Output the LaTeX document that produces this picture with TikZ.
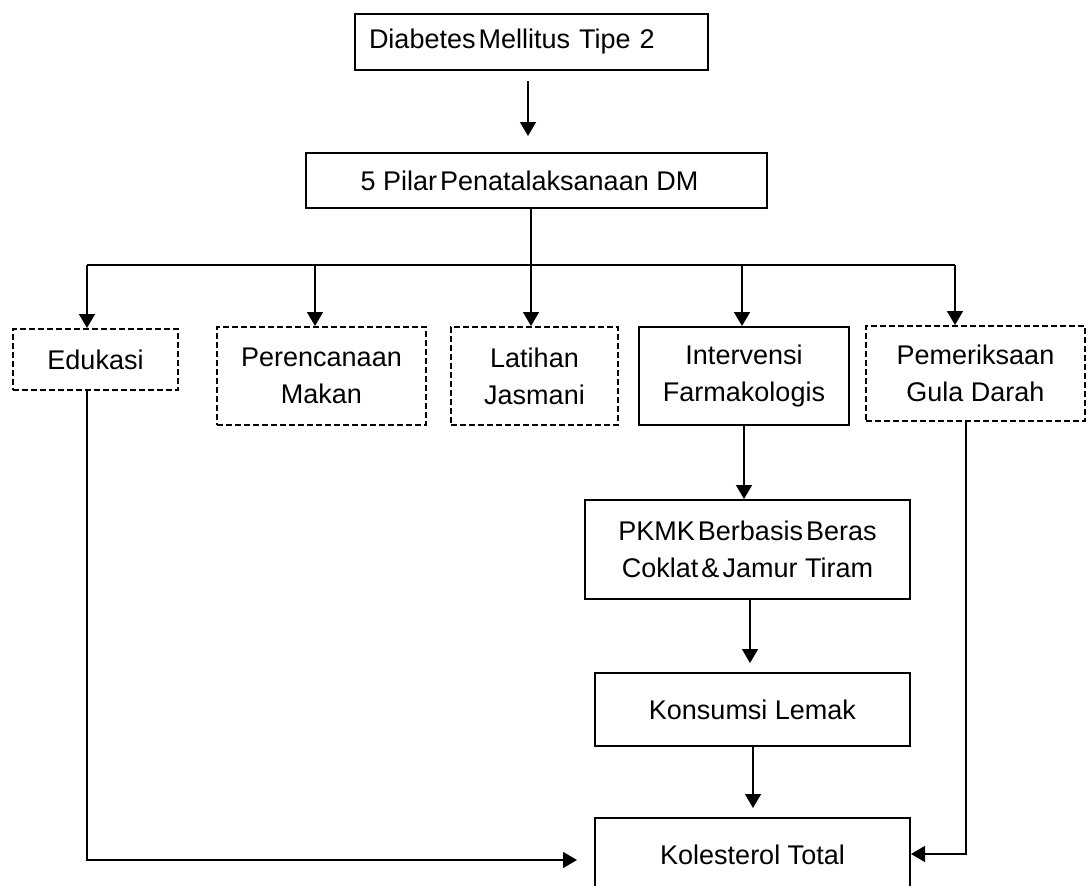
\documentclass[tikz,border=0pt]{standalone}
\usepackage{fontspec}
\setmainfont{Liberation Sans}
\usetikzlibrary{arrows.meta}
\begin{document}
\begin{tikzpicture}[x=1pt,y=-1pt,
  box/.style={draw, line width=2pt, inner sep=0pt, align=center, font=\fontsize{27}{37}\selectfont},
  dbox/.style={box, dash pattern=on 6pt off 3pt},
  arr/.style={line width=1.5pt, -{Triangle[length=14pt,width=16pt]}},
  ln/.style={line width=1.5pt}]
\useasboundingbox (0,0) rectangle (1087,886);
\node[box, minimum width=353pt, minimum height=56pt, text width=325pt, align=left, inner xsep=14pt] (dm) at (531.5,42) {Diabetes\hspace{3pt}Mellitus Tipe 2};
\node[box, minimum width=461pt, minimum height=55pt] (pilar) at (536.5,180.5) {5 Pilar\hspace{3pt}Penatalaksanaan DM\hspace*{14pt}};
\node[dbox, minimum width=165pt, minimum height=61pt] (edukasi) at (95.5,359.5) {Edukasi};
\node[dbox, minimum width=209pt, minimum height=98pt] (peren) at (321.5,376) {Perencanaan\\Makan};
\node[dbox, minimum width=167pt, minimum height=98pt] (latihan) at (534.5,376) {Latihan\\Jasmani};
\node[box, minimum width=210pt, minimum height=98pt] (interv) at (744,376) {Intervensi\\Farmakologis};
\node[dbox, minimum width=219pt, minimum height=95pt] (pemer) at (975.5,373.5) {Pemeriksaan\\Gula Darah};
\node[box, minimum width=325pt, minimum height=99pt] (pkmk) at (747.5,549.5) {PKMK\hspace{3pt}Berbasis\hspace{3pt}Beras\\Coklat\hspace{3pt}\&\hspace{3pt}Jamur Tiram};
\node[box, minimum width=315pt, minimum height=73pt] (kons) at (752.5,709.5) {Konsumsi Lemak};
\node[box, minimum width=315pt, minimum height=74pt] (kol) at (752.5,855) {Kolesterol Total};
\coordinate (xa) at (528,0);
\coordinate (br) at (531,265);
\coordinate (bl) at (87,265);
\coordinate (bp) at (315,265);
\coordinate (bi) at (742,265);
\coordinate (brr) at (955,265);
\coordinate (xi) at (744,0);
\coordinate (xp) at (750,0);
\coordinate (xk) at (753,0);
\coordinate (ey) at (0,860);
\coordinate (px) at (966,854);
\draw[arr, shorten <=10pt, shorten >=16pt] (dm.south -| xa) -- (pilar.north -| xa);
\draw[ln] (pilar.south -| br) -- (br);
\draw[ln] (bl) -- (brr);
\draw[arr] (bl) -- (edukasi.north -| bl);
\draw[arr] (bp) -- (peren.north -| bp);
\draw[arr] (br) -- (latihan.north -| br);
\draw[arr] (bi) -- (interv.north -| bi);
\draw[arr] (brr) -- (pemer.north -| brr);
\draw[arr] (interv.south -| xi) -- (pkmk.north -| xi);
\draw[arr, shorten >=9pt] (pkmk.south -| xp) -- (kons.north -| xp);
\draw[arr, shorten >=9pt] (kons.south -| xk) -- (kol.north -| xk);
\draw[arr, shorten >=17pt] (edukasi.south -| bl) |- (kol.west |- ey);
\draw[arr] (pemer.south -| px) |- (kol.east |- px);
\end{tikzpicture}
\end{document}
